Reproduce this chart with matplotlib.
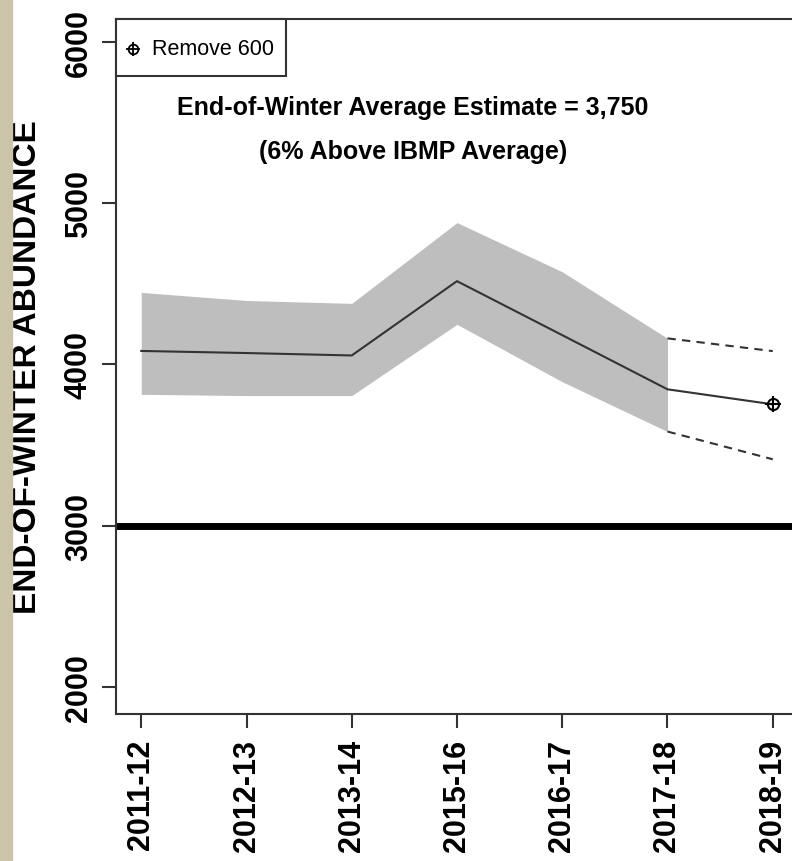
import matplotlib.pyplot as plt
from matplotlib.patches import Rectangle

seasons = ["2011-12", "2012-13", "2013-14", "2015-16", "2016-17", "2017-18", "2018-19"]
estimate = [4084, 4071, 4056, 4517, 4182, 3846, 3753]
upper = [4447, 4397, 4379, 4880, 4575, 4162, 4083]
lower = [3815, 3807, 3807, 4249, 3893, 3584, 3412]
ibmp_line = 3000
yticks = [2000, 3000, 4000, 5000, 6000]

plt.rcParams["font.family"] = ["Liberation Sans", "DejaVu Sans"]

W, H = 792, 862
fig = plt.figure(figsize=(W / 100, H / 100), dpi=100)
fig.patches.append(Rectangle((0, 0), 12 / W, 1, transform=fig.transFigure,
                             color="#cbc4a8", zorder=0))
ax = fig.add_axes([116 / W, 1 - 715 / H, (798 - 116) / W, (715 - 20) / H])

x = list(range(len(seasons)))
obs = x[:-1]
ax.fill_between(obs, lower[:-1], upper[:-1], color="#bebebe", lw=0, zorder=1)
ax.plot(x, estimate, color="#333333", lw=1.5, zorder=3)
ax.plot(x[-2:], upper[-2:], color="#333333", lw=1.5, ls=(0, (4, 3)), zorder=3)
ax.plot(x[-2:], lower[-2:], color="#333333", lw=1.5, ls=(0, (4, 3)), zorder=3)
ax.axhline(ibmp_line, color="black", lw=5, zorder=2)

ax.plot(x[-1], estimate[-1], marker="o", ms=8, mfc="none", mec="black", mew=1.5, zorder=4)
ax.plot(x[-1], estimate[-1], marker="+", ms=12, mec="black", mew=1.5, zorder=4)

ax.set_xlim(-0.24, 6.24)
ax.set_ylim(1832, 6143)
ax.set_xticks(x)
ax.set_xticklabels(seasons, rotation=90, fontsize=22, fontweight="bold")
ax.set_yticks(yticks)
ax.set_yticklabels([str(v) for v in yticks], rotation=90, va="center",
                   fontsize=22, fontweight="bold")
ax.tick_params(length=10, width=1.5, color="#333333")
ax.tick_params(axis="x", pad=8)
ax.tick_params(axis="y", pad=6)
for s in ax.spines.values():
    s.set_linewidth(1.5)
    s.set_color("#333333")

ax.set_ylabel("END-OF-WINTER ABUNDANCE", fontsize=24, fontweight="bold")
ax.yaxis.set_label_coords(-0.107, 0.5)

fig.text(413 / W, 1 - 108 / H, "End-of-Winter Average Estimate = 3,750",
         fontsize=18, fontweight="bold", ha="center", va="center")
fig.text(413 / W, 1 - 152 / H, "(6% Above IBMP Average)",
         fontsize=18, fontweight="bold", ha="center", va="center")

# legend box in the top-left corner
ax.add_patch(Rectangle((116 / W, 1 - 77 / H), 170 / W, 57 / H, transform=fig.transFigure,
                       facecolor="white", edgecolor="#333333", lw=1.5, zorder=5,
                       clip_on=False))
lx, ly = 17 / 682, 1 - 30 / 695
ax.plot(lx, ly, marker="o", ms=7, mfc="none", mec="black", mew=1.3, transform=ax.transAxes,
        clip_on=False, zorder=6)
ax.plot(lx, ly, marker="+", ms=10, mec="black", mew=1.3, transform=ax.transAxes,
        clip_on=False, zorder=6)
ax.text(36 / 682, ly, "Remove 600", fontsize=15.5, ha="left", va="center",
        transform=ax.transAxes, zorder=6)

fig.savefig("out.png", dpi=100)
